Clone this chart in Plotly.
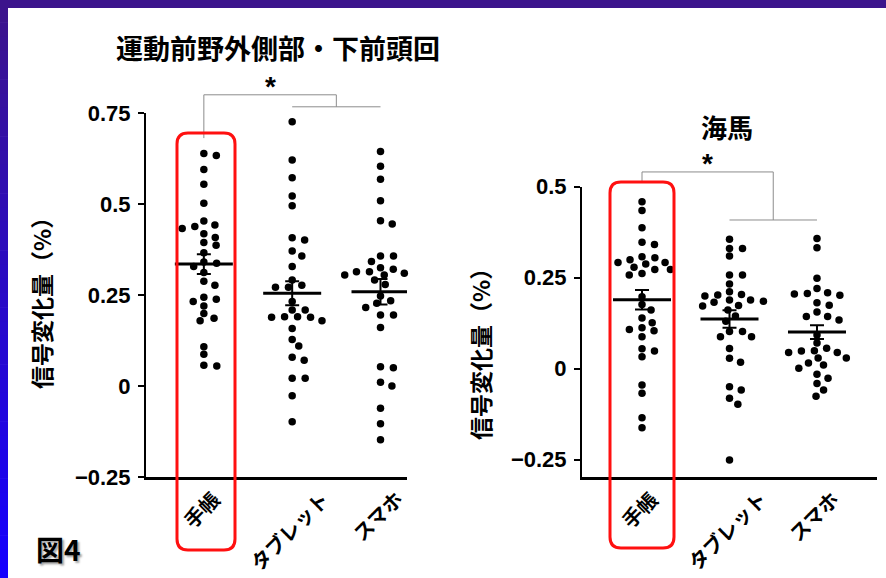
import math
import plotly.graph_objects as go

W, H = 886, 578

# ---------------- data ----------------
categories = ["手帳", "タブレット", "スマホ"]
title_left = "運動前野外側部・下前頭回"
title_right = "海馬"
y_title = "信号変化量（%）"
fig_label = "図4"

left_notebook = [0.639, 0.633, 0.595, 0.554, 0.502, 0.453, 0.442, 0.438, 0.433, 0.418,
                 0.408, 0.394, 0.387, 0.366, 0.341, 0.337, 0.328, 0.312, 0.288, 0.277,
                 0.244, 0.238, 0.232, 0.220, 0.199, 0.186, 0.179, 0.108, 0.087, 0.057, 0.055]
left_tablet = [0.726, 0.621, 0.572, 0.522, 0.495, 0.407, 0.401, 0.371, 0.357, 0.328,
               0.291, 0.271, 0.277, 0.271, 0.232, 0.209, 0.189, 0.189, 0.190, 0.209,
               0.190, 0.179, 0.158, 0.128, 0.110, 0.071, 0.079, 0.021, 0.021, -0.027, -0.098]
left_phone = [0.644, 0.604, 0.568, 0.509, 0.454, 0.445, 0.357, 0.357, 0.342, 0.314,
              0.310, 0.314, 0.321, 0.305, 0.325, 0.305, 0.291, 0.279, 0.247, 0.234,
              0.227, 0.216, 0.195, 0.195, 0.161, 0.053, 0.050, 0.010, 0.000, -0.061,
              -0.104, -0.148]
right_notebook = [0.458, 0.434, 0.387, 0.341, 0.347, 0.307, 0.287, 0.261, 0.299, 0.278,
                  0.257, 0.291, 0.272, 0.291, 0.304, 0.272, 0.197, 0.176, 0.161, 0.139,
                  0.126, 0.107, 0.112, 0.087, 0.104, 0.054, 0.032, 0.048, -0.045, -0.068,
                  -0.135, -0.163]
right_tablet = [0.355, 0.330, 0.330, 0.309, 0.257, 0.257, 0.232, 0.211, 0.203, 0.202,
                0.199, 0.188, 0.188, 0.182, 0.173, 0.172, 0.185, 0.161, 0.144, 0.130,
                0.102, 0.102, 0.087, 0.087, 0.055, 0.028, 0.017, -0.050, -0.059, -0.082,
                -0.098, -0.251]
right_phone = [0.357, 0.332, 0.248, 0.220, 0.205, 0.208, 0.201, 0.206, 0.181, 0.174,
               0.143, 0.143, 0.155, 0.133, 0.092, 0.044, 0.056, 0.070, 0.049, 0.048,
               0.044, 0.015, 0.029, 0.010, 0.029, 0.001, -0.027, -0.016, -0.041, -0.059,
               -0.076]

left_means = [0.335, 0.255, 0.259]
left_sems = [0.027, 0.033, 0.035]
right_means = [0.189, 0.136, 0.100]
right_sems = [0.027, 0.024, 0.019]

left_tickvals = [-0.25, 0, 0.25, 0.5, 0.75]
left_ticktext = ["−0.25", "0", "0.25", "0.5", "0.75"]
right_tickvals = [-0.25, 0, 0.25, 0.5]
right_ticktext = ["−0.25", "0", "0.25", "0.5"]

# significance brackets (value levels, in data units of each panel)
left_bracket = dict(top=0.800, sub=0.767, drop=0.681)
right_bracket = dict(top=0.540, sub=0.408, drop=0.515)

# ---------------- layout geometry (pixels) ----------------
panels = {
    "left": dict(x0=146, x1=407, ytop=113, ybot=477, xr=[-0.655, 2.3], yr=[-0.25, 0.75]),
    "right": dict(x0=582, x1=877, ytop=186.5, ybot=477, xr=[-0.686, 2.686], yr=[-0.298, 0.5]),
}


def px_x(px):
    return px / W


def px_y(py):
    return 1 - py / H


def ppu(p):
    return ((p["x1"] - p["x0"]) / (p["xr"][1] - p["xr"][0]),
            (p["ybot"] - p["ytop"]) / (p["yr"][1] - p["yr"][0]))


def val_to_paper(p, v):
    d0, d1 = px_y(p["ybot"]), px_y(p["ytop"])
    return d0 + (v - p["yr"][0]) / (p["yr"][1] - p["yr"][0]) * (d1 - d0)


def swarm(vals, ppy, sx=13.0, sy=7.6):
    """Beeswarm offsets in pixels (elliptical non-overlap)."""
    n = len(vals)
    order = sorted(range(n), key=lambda i: -vals[i])
    placed = []
    offs = [0.0] * n
    for i in order:
        y = vals[i] * ppy
        cands = [0.0]
        for (qx, qy) in placed:
            dy = abs(y - qy)
            if dy < sy:
                dx = sx * math.sqrt(1 - (dy / sy) ** 2)
                cands += [qx + dx, qx - dx]
        cands.sort(key=lambda c: (round(abs(c), 6), -c))
        chosen = 0.0
        for c in cands:
            ok = True
            for (qx, qy) in placed:
                if ((c - qx) / sx) ** 2 + ((y - qy) / sy) ** 2 < 1 - 1e-6:
                    ok = False
                    break
            if ok:
                chosen = c
                break
        placed.append((chosen, y))
        offs[i] = chosen
    return offs


fig = go.Figure()

panel_data = [
    ("left", "x", "y", [left_notebook, left_tablet, left_phone], left_means, left_sems),
    ("right", "x2", "y2", [right_notebook, right_tablet, right_phone], right_means, right_sems),
]

for name, xa, ya, groups, means, sems in panel_data:
    p = panels[name]
    ppx, ppy = ppu(p)
    for ci, vals in enumerate(groups):
        offs = swarm(vals, ppy)
        fig.add_trace(go.Scatter(
            x=[ci + o / ppx for o in offs], y=vals, mode="markers", xaxis=xa, yaxis=ya,
            marker=dict(color="black", size=7.5, line=dict(width=0)),
            cliponaxis=False, showlegend=False, hoverinfo="skip"))
    half = 29 / ppx
    mx, my = [], []
    for ci, m in enumerate(means):
        mx += [ci - half, ci + half, None]
        my += [m, m, None]
    fig.add_trace(go.Scatter(x=mx, y=my, mode="lines", xaxis=xa, yaxis=ya,
                             line=dict(color="black", width=3),
                             showlegend=False, hoverinfo="skip"))
    fig.add_trace(go.Scatter(
        x=list(range(len(means))), y=means, mode="markers", xaxis=xa, yaxis=ya,
        marker=dict(size=1, color="rgba(0,0,0,0)"),
        error_y=dict(type="data", array=sems, visible=True, color="black",
                     thickness=2, width=7),
        showlegend=False, hoverinfo="skip"))

FONT_NUM = "Liberation Sans, Arial, sans-serif"
FONT_JP = "Noto Sans CJK JP, sans-serif"

lp, rp = panels["left"], panels["right"]
axis_common = dict(showgrid=False, zeroline=False, fixedrange=True, automargin=False)

fig.update_layout(
    width=W, height=H, autosize=False,
    margin=dict(l=0, r=0, t=0, b=0, pad=0, autoexpand=False),
    paper_bgcolor="white", plot_bgcolor="rgba(0,0,0,0)",
    showlegend=False,
    xaxis=dict(domain=[px_x(lp["x0"]), px_x(lp["x1"])], range=lp["xr"], anchor="y",
               showline=True, linecolor="black", linewidth=3, ticks="",
               showticklabels=False, **axis_common),
    yaxis=dict(domain=[px_y(lp["ybot"]), px_y(lp["ytop"])], range=lp["yr"], anchor="x",
               showline=True, linecolor="black", linewidth=2, ticks="outside",
               ticklen=6, tickwidth=2, tickcolor="black",
               tickvals=left_tickvals, ticktext=left_ticktext, ticklabelstandoff=3,
               tickfont=dict(family=FONT_NUM, size=22, color="black", weight="bold"),
               **axis_common),
    xaxis2=dict(domain=[px_x(rp["x0"]), px_x(rp["x1"])], range=rp["xr"], anchor="y2",
                showline=True, linecolor="black", linewidth=3, ticks="",
                showticklabels=False, **axis_common),
    yaxis2=dict(domain=[px_y(rp["ybot"]), px_y(rp["ytop"])], range=rp["yr"], anchor="x2",
                showline=True, linecolor="black", linewidth=2, ticks="outside",
                ticklen=6, tickwidth=2, tickcolor="black",
                tickvals=right_tickvals, ticktext=right_ticktext, ticklabelstandoff=3,
                tickfont=dict(family=FONT_NUM, size=22, color="black", weight="bold"),
                **axis_common),
)

annotations = []
annotations.append(dict(text=title_left, x=px_x(278), y=px_y(47), xref="paper", yref="paper",
                        showarrow=False, xanchor="center", yanchor="middle",
                        font=dict(family=FONT_JP, size=27, color="black", weight="bold")))
annotations.append(dict(text=title_right, x=px_x(727), y=px_y(126), xref="paper", yref="paper",
                        showarrow=False, xanchor="center", yanchor="middle",
                        font=dict(family=FONT_JP, size=26, color="black", weight="bold")))
for cx, cy in [(41, 298), (480, 349)]:
    annotations.append(dict(text=y_title, x=px_x(cx), y=px_y(cy), xref="paper", yref="paper",
                            showarrow=False, xanchor="center", yanchor="middle", textangle=-90,
                            font=dict(family=FONT_JP, size=23, color="black", weight="bold")))
for xa in ["x", "x2"]:
    for ci, cat in enumerate(categories):
        annotations.append(dict(text=cat, x=ci, xref=xa, y=px_y(477), yref="paper",
                                showarrow=False, xanchor="center", yanchor="top",
                                yshift=-5, xshift=-3, textangle=-45,
                                font=dict(family=FONT_JP, size=20, color="black", weight="bold")))
for xa, p, br in [("x", lp, left_bracket), ("x2", rp, right_bracket)]:
    annotations.append(dict(text="*", x=0.5 * (0 + 1.5), xref=xa,
                            y=val_to_paper(p, br["top"]), yref="paper",
                            showarrow=False, xanchor="center", yanchor="bottom", yshift=-9,
                            font=dict(family=FONT_NUM, size=28, color="black", weight="bold")))
annotations.append(dict(text=fig_label, x=px_x(58), y=px_y(549), xref="paper", yref="paper",
                        showarrow=False, xanchor="center", yanchor="middle",
                        font=dict(family=FONT_JP, size=28, color="black", weight="bold",
                                  shadow="2px 2px 2px rgba(0,0,0,0.35)")))
fig.update_layout(annotations=annotations)

shapes = []
for xa, p, br in [("x", lp, left_bracket), ("x2", rp, right_bracket)]:
    yt = val_to_paper(p, br["top"])
    ys = val_to_paper(p, br["sub"])
    yd = val_to_paper(p, br["drop"])
    style = dict(color="#8c8c8c", width=1)
    shapes += [
        dict(type="line", xref=xa, yref="paper", x0=0, x1=0, y0=yd, y1=yt, line=style),
        dict(type="line", xref=xa, yref="paper", x0=0, x1=1.5, y0=yt, y1=yt, line=style),
        dict(type="line", xref=xa, yref="paper", x0=1.5, x1=1.5, y0=yt, y1=ys, line=style),
        dict(type="line", xref=xa, yref="paper", x0=1, x1=2, y0=ys, y1=ys, line=style),
    ]


def rounded_box(x0, y0, x1, y1, r):
    X = lambda v: f"{px_x(v):.5f}"
    Y = lambda v: f"{px_y(v):.5f}"
    return (f"M {X(x0 + r)},{Y(y0)} L {X(x1 - r)},{Y(y0)} Q {X(x1)},{Y(y0)} {X(x1)},{Y(y0 + r)} "
            f"L {X(x1)},{Y(y1 - r)} Q {X(x1)},{Y(y1)} {X(x1 - r)},{Y(y1)} "
            f"L {X(x0 + r)},{Y(y1)} Q {X(x0)},{Y(y1)} {X(x0)},{Y(y1 - r)} "
            f"L {X(x0)},{Y(y0 + r)} Q {X(x0)},{Y(y0)} {X(x0 + r)},{Y(y0)} Z")


for bx in [(177, 133, 235, 550), (610, 182, 674, 548)]:
    shapes.append(dict(type="path", xref="paper", yref="paper", path=rounded_box(*bx, 11),
                       line=dict(color="#ff1010", width=3), fillcolor="rgba(0,0,0,0)",
                       layer="above"))

shapes.append(dict(type="rect", xref="paper", yref="paper", x0=0, x1=1, y0=px_y(8), y1=1,
                   line=dict(width=0), fillcolor="rgb(60,20,140)", layer="above"))
nseg = 40
c_top, c_bot = (60, 20, 140), (22, 0, 255)
for k in range(nseg):
    t = (k + 0.5) / nseg
    c = tuple(round(c_top[j] + (c_bot[j] - c_top[j]) * t) for j in range(3))
    ya = 8 + (H - 8) * k / nseg
    yb = 8 + (H - 8) * (k + 1) / nseg + 0.6
    shapes.append(dict(type="rect", xref="paper", yref="paper", x0=0, x1=px_x(8),
                       y0=px_y(yb), y1=px_y(ya), line=dict(width=0),
                       fillcolor=f"rgb{c}", layer="above"))
fig.update_layout(shapes=shapes)

fig.write_html(
    "out.html",
    config={"displayModeBar": False, "responsive": False},
    post_script=("document.body.style.margin='0';document.body.style.padding='0';"
                 "document.documentElement.style.overflow='hidden';"
                 "document.body.style.overflow='hidden';"),
)
